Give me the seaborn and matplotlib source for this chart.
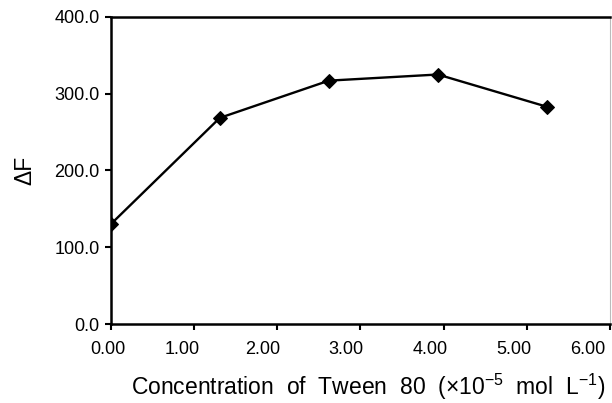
import pandas as pd
import matplotlib
matplotlib.use('Agg')
import matplotlib.pyplot as plt
import matplotlib.transforms as mtransforms
import seaborn as sns

# data
concentration = [0.00, 1.31, 2.62, 3.93, 5.24]
delta_f = [130.0, 268.5, 317.0, 325.0, 283.0]
x_ticks = [0, 1, 2, 3, 4, 5, 6]
y_ticks = [0, 100, 200, 300, 400]

sns.set_style('ticks')
plt.rcParams['font.family'] = ['Liberation Sans', 'DejaVu Sans']
plt.rcParams['mathtext.fontset'] = 'custom'
plt.rcParams['mathtext.rm'] = 'Liberation Sans'
plt.rcParams['mathtext.it'] = 'Liberation Sans'
plt.rcParams['text.color'] = 'black'
plt.rcParams['axes.labelcolor'] = 'black'
plt.rcParams['xtick.color'] = 'black'
plt.rcParams['ytick.color'] = 'black'

df = pd.DataFrame({'conc': concentration, 'dF': delta_f})

fig = plt.figure(figsize=(6.12, 4.03), dpi=100)
ax = fig.add_axes([0.181, 0.196, 0.816, 0.762])

sns.lineplot(data=df, x='conc', y='dF', ax=ax, color='black', linewidth=1.7,
             marker='D', markersize=7.5, markeredgecolor='black')

ax.set_xlim(0, 6)
ax.set_ylim(0, 400)
ax.set_xticks(x_ticks)
ax.set_xticklabels(['%.2f' % t for t in x_ticks])
ax.set_yticks(y_ticks)
ax.set_yticklabels(['%.1f' % t for t in y_ticks])
ax.tick_params(axis='both', direction='out', length=4, width=1.5,
               labelsize=13, color='black', labelcolor='black')
ax.tick_params(axis='x', pad=8)
ax.tick_params(axis='y', pad=4)

# the reference's x labels sit a little left of their ticks
shifts = [-3, -12, -15, -15, -14, -13, -22]
for lab, dx in zip(ax.get_xticklabels(), shifts):
    lab.set_transform(lab.get_transform() +
                      mtransforms.ScaledTranslation(dx / 100, 0, fig.dpi_scale_trans))

for side in ['left', 'bottom', 'top']:
    ax.spines[side].set_linewidth(1.8)
    ax.spines[side].set_color('black')
ax.spines['right'].set_linewidth(0.8)
ax.spines['right'].set_color('#bbbbbb')

ax.set_xlabel(r'Concentration  of  Tween  80  (×10$^{-5}$  mol  L$^{-1}$)',
              fontsize=16.5, labelpad=10.5, x=0.515, color='black')
ax.set_ylabel('ΔF', fontsize=16.5, labelpad=13, color='black')

plt.savefig('out.png', dpi=100)
